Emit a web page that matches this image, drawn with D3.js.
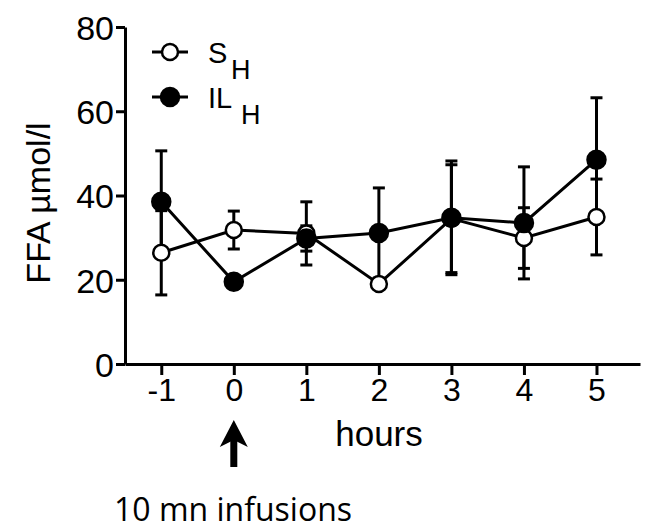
<!DOCTYPE html>
<html>
<head>
<meta charset="utf-8">
<script src="https://cdn.jsdelivr.net/npm/d3@7"></script>
<style>
  html, body { margin: 0; padding: 0; background: #fff; }
  svg { display: block; }
  text { font-family: "Liberation Sans", Arial, sans-serif; fill: #000; }
  text.note { font-family: "Open Sans", sans-serif; }
</style>
</head>
<body>
<svg id="chart" width="645" height="532"></svg>
<script>
const hours = [-1, 0, 1, 2, 3, 4, 5];
const yTicks = [0, 20, 40, 60, 80];

// S_H (saline, open circles)
const sMean = [26.4, 31.8, 31.0, 19.0, 34.5, 29.9, 34.9];
const sErr = [10.0, 4.5, 7.5, 1.0, 12.8, 7.2, 9.0];

// IL_H (filled circles)
const ilMean = [38.5, 19.5, 29.8, 31.1, 34.7, 33.5, 48.5];
const ilErr = [12.1, 1.5, 3.0, 10.7, 13.5, 13.3, 14.7];

const series = [
  { key: "S", mean: sMean, err: sErr, fill: "#fff", r: 8 },
  { key: "IL", mean: ilMean, err: ilErr, fill: "#000", r: 9 },
];

const svg = d3.select("#chart");

const x = d3.scaleLinear().domain([-1.5, 5.6]).range([125, 640]);
const y = d3.scaleLinear().domain([0, 80]).range([364, 27]);

// axes
const xAxis = svg.append("g")
  .attr("transform", `translate(0,${y(0)})`)
  .call(d3.axisBottom(x).tickValues(hours).tickSize(11).tickSizeOuter(0).tickFormat((d) => String(d)));
xAxis.select(".domain").attr("stroke-width", 3);
xAxis.selectAll(".tick line").attr("stroke-width", 3);
xAxis.selectAll(".tick text")
  .attr("font-size", 32)
  .attr("y", 14)
  .attr("dy", "0.71em");

const yAxis = svg.append("g")
  .attr("transform", `translate(${x.range()[0]},0)`)
  .call(d3.axisLeft(y).tickValues(yTicks).tickSize(9).tickSizeOuter(0));
yAxis.select(".domain").attr("stroke-width", 3);
yAxis.selectAll(".tick line").attr("stroke-width", 3);
yAxis.selectAll(".tick text")
  .attr("font-size", 34)
  .attr("x", -11)
  .attr("dy", "0.36em");

// axis titles
svg.append("text")
  .attr("transform", `translate(50,203) rotate(-90)`)
  .attr("text-anchor", "middle")
  .attr("font-size", 34)
  .text("FFA µmol/l");

svg.append("text")
  .attr("x", 379)
  .attr("y", 446)
  .attr("text-anchor", "middle")
  .attr("font-size", 35)
  .text("hours");

// error bars
const capHalf = 6;
for (const s of series) {
  const g = svg.append("g").attr("stroke", "#000").attr("stroke-width", 3);
  hours.forEach((h, i) => {
    const cx = x(h);
    const top = y(s.mean[i] + s.err[i]);
    const bot = y(s.mean[i] - s.err[i]);
    g.append("line").attr("x1", cx).attr("x2", cx).attr("y1", top).attr("y2", bot);
    g.append("line").attr("x1", cx - capHalf).attr("x2", cx + capHalf).attr("y1", top).attr("y2", top);
    g.append("line").attr("x1", cx - capHalf).attr("x2", cx + capHalf).attr("y1", bot).attr("y2", bot);
  });
}

// lines
const line = d3.line().x((d) => x(d[0])).y((d) => y(d[1]));
for (const s of series) {
  svg.append("path")
    .datum(hours.map((h, i) => [h, s.mean[i]]))
    .attr("d", line)
    .attr("fill", "none")
    .attr("stroke", "#000")
    .attr("stroke-width", 3);
}

// markers
for (const s of series) {
  svg.append("g")
    .selectAll("circle")
    .data(hours.map((h, i) => [h, s.mean[i]]))
    .join("circle")
    .attr("cx", (d) => x(d[0]))
    .attr("cy", (d) => y(d[1]))
    .attr("r", s.r)
    .attr("fill", s.fill)
    .attr("stroke", "#000")
    .attr("stroke-width", 2.5);
}

// legend
const legend = svg.append("g");
const legendRows = [
  { label: "S", sub: "H", cy: 52, fill: "#fff", r: 8, subX: 231 },
  { label: "IL", sub: "H", cy: 97, fill: "#000", r: 9, subX: 241 },
];
for (const row of legendRows) {
  legend.append("line")
    .attr("x1", 152).attr("x2", 188)
    .attr("y1", row.cy).attr("y2", row.cy)
    .attr("stroke", "#000").attr("stroke-width", 3);
  legend.append("circle")
    .attr("cx", 170).attr("cy", row.cy).attr("r", row.r)
    .attr("fill", row.fill).attr("stroke", "#000").attr("stroke-width", 2.5);
  legend.append("text")
    .attr("x", 208).attr("y", row.cy + 11)
    .attr("font-size", 29)
    .text(row.label);
  legend.append("text")
    .attr("x", row.subX).attr("y", row.cy + 27)
    .attr("font-size", 27)
    .text(row.sub);
}

// infusion arrow and note
const ax = x(0);
svg.append("line")
  .attr("x1", ax).attr("x2", ax)
  .attr("y1", 440).attr("y2", 467)
  .attr("stroke", "#000").attr("stroke-width", 7);
svg.append("path")
  .attr("d", `M${ax},420 L${ax + 14},447 L${ax},440 L${ax - 14},447 Z`)
  .attr("fill", "#000");

svg.append("text")
  .attr("class", "note")
  .attr("x", 114)
  .attr("y", 521)
  .attr("font-size", 32)
  .text("10 mn infusions");
</script>
</body>
</html>
